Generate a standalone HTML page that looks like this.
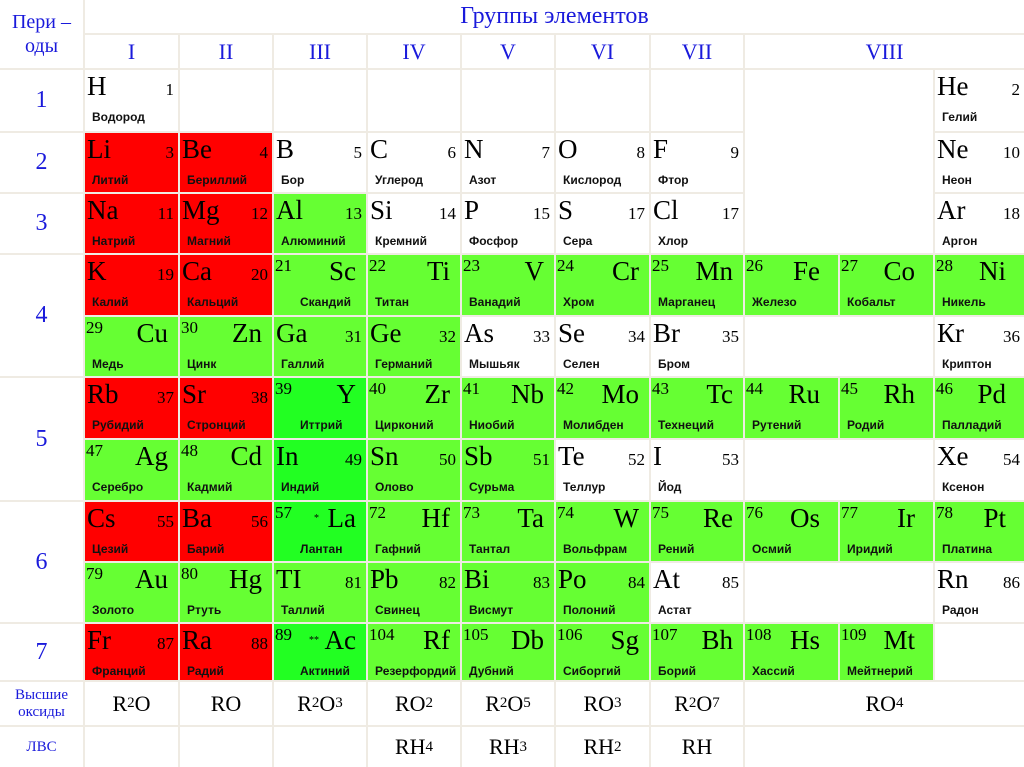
<!DOCTYPE html>
<html><head><meta charset="utf-8"><style>
body{margin:0;width:1024px;height:767px;background:#efebe3;position:relative;overflow:hidden;font-family:"Liberation Serif","DejaVu Serif",serif}
.c{position:absolute;background:#fff;box-sizing:border-box;overflow:hidden}
.blue{color:#1a1adb;display:flex;align-items:center;justify-content:center;text-align:center}
.sym{position:absolute;font-size:27px;line-height:27px;top:3px;color:#000}
.num{position:absolute;font-size:17px;line-height:17px;color:#000}
.nm{position:absolute;left:7px;top:40px;font-family:"Liberation Sans","DejaVu Sans",sans-serif;font-weight:bold;font-size:12px;color:#111}
.ox{font-size:22px;color:#000;display:flex;align-items:center;justify-content:center}
.ox sub{font-size:15px;vertical-align:baseline}
</style></head><body>
<div id="root"></div>
<script>
const colX=[85,180,274,368,462,556,651,745,840,935];
const colW=[93,92,92,92,92,93,92,93,93,89];
const rowY=[70,133,194,255,317,378,440,502,563,624];
const rowH=[61,59,59,60,59,60,60,59,59,56];
// [row,col,symbol,number,name,color(r/g/b/w),layout(L=sym-left,N=num-left),extra]
const elements=[
[0,0,'H','1','Водород','w','L'],[0,9,'He','2','Гелий','w','L'],
[1,0,'Li','3','Литий','r','L'],[1,1,'Be','4','Бериллий','r','L'],[1,2,'B','5','Бор','w','L'],[1,3,'C','6','Углерод','w','L'],[1,4,'N','7','Азот','w','L'],[1,5,'O','8','Кислород','w','L'],[1,6,'F','9','Фтор','w','L'],[1,9,'Ne','10','Неон','w','L'],
[2,0,'Na','11','Натрий','r','L'],[2,1,'Mg','12','Магний','r','L'],[2,2,'Al','13','Алюминий','g','L'],[2,3,'Si','14','Кремний','w','L'],[2,4,'P','15','Фосфор','w','L'],[2,5,'S','17','Сера','w','L'],[2,6,'Cl','17','Хлор','w','L'],[2,9,'Ar','18','Аргон','w','L'],
[3,0,'K','19','Калий','r','L'],[3,1,'Ca','20','Кальций','r','L'],[3,2,'Sc','21','Скандий','g','N'],[3,3,'Ti','22','Титан','g','N'],[3,4,'V','23','Ванадий','g','N'],[3,5,'Cr','24','Хром','g','N'],[3,6,'Mn','25','Марганец','g','N'],[3,7,'Fe','26','Железо','g','N'],[3,8,'Co','27','Кобальт','g','N'],[3,9,'Ni','28','Никель','g','N'],
[4,0,'Cu','29','Медь','g','N'],[4,1,'Zn','30','Цинк','g','N'],[4,2,'Ga','31','Галлий','g','L'],[4,3,'Ge','32','Германий','g','L'],[4,4,'As','33','Мышьяк','w','L'],[4,5,'Se','34','Селен','w','L'],[4,6,'Br','35','Бром','w','L'],[4,9,'Кr','36','Криптон','w','L'],
[5,0,'Rb','37','Рубидий','r','L'],[5,1,'Sr','38','Стронций','r','L'],[5,2,'Y','39','Иттрий','b','N'],[5,3,'Zr','40','Цирконий','g','N'],[5,4,'Nb','41','Ниобий','g','N'],[5,5,'Mo','42','Молибден','g','N'],[5,6,'Tc','43','Технеций','g','N'],[5,7,'Ru','44','Рутений','g','N'],[5,8,'Rh','45','Родий','g','N'],[5,9,'Pd','46','Палладий','g','N'],
[6,0,'Ag','47','Серебро','g','N'],[6,1,'Cd','48','Кадмий','g','N'],[6,2,'In','49','Индий','b','L'],[6,3,'Sn','50','Олово','g','L'],[6,4,'Sb','51','Сурьма','g','L'],[6,5,'Te','52','Теллур','w','L'],[6,6,'I','53','Йод','w','L'],[6,9,'Xe','54','Ксенон','w','L'],
[7,0,'Cs','55','Цезий','r','L'],[7,1,'Ba','56','Барий','r','L'],[7,2,'La','57','Лантан','b','N','*'],[7,3,'Hf','72','Гафний','g','N'],[7,4,'Ta','73','Тантал','g','N'],[7,5,'W','74','Вольфрам','g','N'],[7,6,'Re','75','Рений','g','N'],[7,7,'Os','76','Осмий','g','N'],[7,8,'Ir','77','Иридий','g','N'],[7,9,'Pt','78','Платина','g','N'],
[8,0,'Au','79','Золото','g','N'],[8,1,'Hg','80','Ртуть','g','N'],[8,2,'TI','81','Таллий','g','L'],[8,3,'Pb','82','Свинец','g','L'],[8,4,'Bi','83','Висмут','g','L'],[8,5,'Po','84','Полоний','g','L'],[8,6,'At','85','Астат','w','L'],[8,9,'Rn','86','Радон','w','L'],
[9,0,'Fr','87','Франций','r','L'],[9,1,'Ra','88','Радий','r','L'],[9,2,'Ac','89','Актиний','b','N','**'],[9,3,'Rf','104','Резерфордий','g','N'],[9,4,'Db','105','Дубний','g','N'],[9,5,'Sg','106','Сиборгий','g','N'],[9,6,'Bh','107','Борий','g','N'],[9,7,'Hs','108','Хассий','g','N'],[9,8,'Mt','109','Мейтнерий','g','N']
];
const groups=['I','II','III','IV','V','VI','VII','VIII'];
const periods=[['1',0,1],['2',1,1],['3',2,1],['4',3,2],['5',5,2],['6',7,2],['7',9,1]];
const oxides=['R<sub>2</sub>O','RO','R<sub>2</sub>O<sub>3</sub>','RO<sub>2</sub>','R<sub>2</sub>O<sub>5</sub>','RO<sub>3</sub>','R<sub>2</sub>O<sub>7</sub>','RO<sub>4</sub>'];
const hydrides=['','','','RH<sub>4</sub>','RH<sub>3</sub>','RH<sub>2</sub>','RH',''];
const colors={r:'#ff0000',g:'#66ff33',b:'#22ff22',w:'#ffffff'};
const root=document.getElementById('root');
function box(x,y,w,h,cls){const d=document.createElement('div');d.className='c '+(cls||'');d.style.left=x+'px';d.style.top=y+'px';d.style.width=w+'px';d.style.height=h+'px';root.appendChild(d);return d;}
let d=box(0,0,83,68,'blue');d.style.fontSize='20px';d.style.lineHeight='24px';d.innerHTML='Пери –<br>оды';


d=box(85,0,939,33,'blue');d.style.fontSize='24px';d.textContent='Группы элементов';


for(let g=0;g<8;g++){const x=colX[g];const w=g<7?colW[g]:1024-745;d=box(x,35,w,33,'blue');d.style.fontSize='22px';d.textContent=groups[g];

}
periods.forEach(p=>{const r=p[1],n=p[2];const y=rowY[r];const h=rowY[r+n-1]+rowH[r+n-1]-y;d=box(0,y,83,h,'blue');d.style.fontSize='24px';d.textContent=p[0];

});
for(let r=0;r<10;r++)for(let c=0;c<10;c++){d=box(colX[c],rowY[r],colW[c],rowH[r]);}
d=box(745,70,188,183);d=box(745,317,188,59);d=box(745,440,188,60);d=box(745,563,188,59);
elements.forEach(e=>{const [r,c,s,n,nm,col,lay,ex]=e;const x=colX[c],y=rowY[r],w=colW[c],h=rowH[r];
d=box(x,y,w,h);d.style.background=colors[col];


const sy=document.createElement('div');sy.className='sym';sy.textContent=s;
const nu=document.createElement('div');nu.className='num';nu.textContent=n;
if(lay==='L'){sy.style.left='2px';nu.style.right='4px';nu.style.top='11px';}
else{nu.style.left='1px';nu.style.top='2px';sy.style.right=(c>=7?18:10)+'px';}
const na=document.createElement('div');na.className='nm';na.textContent=nm;
if(c===2&&lay==='N'){na.style.left='26px';}
if(ex){const st=document.createElement('div');st.className='num';st.style.fontSize='10px';st.style.left=(ex.length>1?35:40)+'px';st.style.top='8px';st.textContent=ex;d.appendChild(st);}
d.appendChild(sy);d.appendChild(nu);d.appendChild(na);});
d=box(0,682,83,43,'blue');d.style.fontSize='15px';d.style.lineHeight='17px';d.innerHTML='Высшие<br>оксиды';


d=box(0,727,83,40,'blue');d.style.fontSize='15px';d.textContent='ЛВС';


for(let g=0;g<8;g++){const x=colX[g],w=g<7?colW[g]:1024-745;
d=box(x,682,w,43,'ox');d.innerHTML=oxides[g];


d=box(x,727,w,40,'ox');d.innerHTML=hydrides[g];

}
</script>
</body></html>
